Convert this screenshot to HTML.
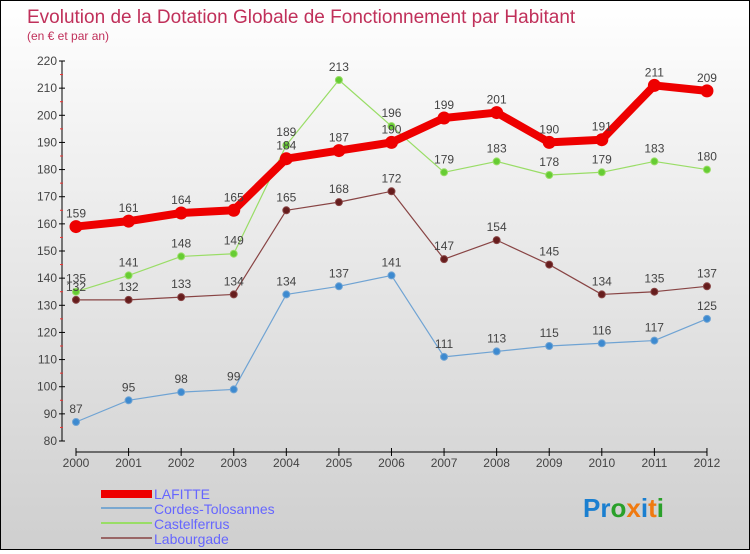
<!DOCTYPE html>
<html><head><meta charset="utf-8"><style>
body{margin:0;width:750px;height:550px;overflow:hidden;font-family:"Liberation Sans",sans-serif}
#c{position:relative;width:748px;height:548px;border:1px solid #000;background:linear-gradient(#fff,#f2f2f2 25%,#cfcfcf)}
</style></head><body>
<div id="c">
<svg id="s" width="748" height="548">
<text x="26" y="22" font-size="19" fill="#c0305a">Evolution de la Dotation Globale de Fonctionnement par Habitant</text>
<text x="26" y="39" font-size="12" fill="#c0305a">(en € et par an)</text>
<g id="ax"></g><g id="ser"></g>
<g>
<rect x="100" y="489" width="51" height="8" fill="#e00"/>
<text x="153" y="498" font-size="14" fill="#6666ff">LAFITTE</text>
<line x1="100" y1="507" x2="151" y2="507" stroke="#7aa8d0" stroke-width="2"/>
<text x="153" y="513" font-size="14" fill="#6666ff">Cordes-Tolosannes</text>
<line x1="100" y1="522" x2="151" y2="522" stroke="#99dd66" stroke-width="2"/>
<text x="153" y="528" font-size="14" fill="#6666ff">Castelferrus</text>
<line x1="100" y1="537" x2="151" y2="537" stroke="#996666" stroke-width="2"/>
<text x="153" y="543" font-size="14" fill="#6666ff">Labourgade</text>
</g>
<text x="582" y="516" font-size="26" font-weight="bold"><tspan fill="#1a7fd0">Pr</tspan><tspan fill="#2aa02a">o</tspan><tspan fill="#f07a10">x</tspan><tspan fill="#1a7fd0">i</tspan><tspan fill="#f07a10">t</tspan><tspan fill="#2aa02a">i</tspan></text>
</svg></div>
<script>
const years=[2000,2001,2002,2003,2004,2005,2006,2007,2008,2009,2010,2011,2012];
const lafitte=[159,161,164,165,184,187,190,199,201,190,191,211,209];
const cordes=[87,95,98,99,134,137,141,111,113,115,116,117,125];
const castel=[135,141,148,149,189,213,196,179,183,178,179,183,180];
const labour=[132,132,133,134,165,168,172,147,154,145,134,135,137];
const yTicks=[80,90,100,110,120,130,140,150,160,170,180,190,200,210,220];
const NS="http://www.w3.org/2000/svg";
const X=i=>75+i*52.58, Y=v=>440-(v-80)*380/140;
function mk(p,t,a){const e=document.createElementNS(NS,t);for(const k in a)e.setAttribute(k,a[k]);p.appendChild(e);return e;}
const ax=document.getElementById('ax');
let yl=mk(ax,'line',{x1:61,y1:Y(220),x2:61,y2:Y(80),stroke:'#000'});


yTicks.forEach(v=>{
 mk(ax,'line',{x1:58,y1:Y(v),x2:64,y2:Y(v),stroke:'#000'});
 if(v<220)mk(ax,'line',{x1:59,y1:Y(v+5),x2:62,y2:Y(v+5),stroke:'#e33'});
 const t=mk(ax,'text',{x:56,y:Y(v)+4,'font-size':12,fill:'#444','text-anchor':'end'});t.textContent=v;
 
 
});
let xl=mk(ax,'line',{x1:X(0),y1:451,x2:X(12),y2:451,stroke:'#000'});


years.forEach((y,i)=>{
 mk(ax,'line',{x1:X(i),y1:447,x2:X(i),y2:455,stroke:'#000'});
 const t=mk(ax,'text',{x:X(i),y:466,'font-size':12,fill:'#444','text-anchor':'middle'});t.textContent=y;
 
 
});
const ser=document.getElementById('ser');
function draw(name,d,col,dot,w,r,lab){
 const g=mk(ser,'g',{});
 
 
 const pl=mk(g,'polyline',{points:d.map((v,i)=>X(i)+','+Y(v)).join(' '),fill:'none',stroke:col,'stroke-width':w,'stroke-linejoin':'round'});
 
 
 d.forEach((v,i)=>{
  const c=mk(g,'circle',{cx:X(i),cy:Y(v),r:r,fill:dot,stroke:col,'stroke-width':1});
  
  
  const t=mk(g,'text',{x:X(i),y:Y(v)-9,'font-size':12,fill:'#444','text-anchor':'middle'});t.textContent=v;
  
  
 });
}
draw('cordes',cordes,'#6fa3d3','#3d8ad0',1.2,3.5);
draw('castelferrus',castel,'#99dd66','#66cc33',1.2,3.5);
draw('labourgade',labour,'#884444','#661d1d',1.2,3.5);
draw('lafitte',lafitte,'#ee0000','#ee0000',8,6);
</script>
</body></html>
